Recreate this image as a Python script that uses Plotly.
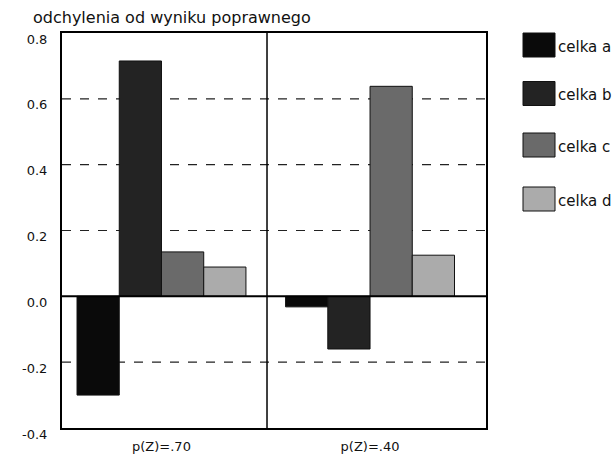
import plotly.graph_objects as go

categories = ["p(Z)=.70", "p(Z)=.40"]
series_names = ["celka a", "celka b", "celka c", "celka d"]
values_a = [-0.30, -0.032]
values_b = [0.715, -0.16]
values_c = [0.135, 0.638]
values_d = [0.089, 0.125]
series_values = [values_a, values_b, values_c, values_d]
colors = ["#0a0a0a", "#232323", "#6a6a6a", "#ababab"]
y_ticks = [-0.4, -0.2, 0.0, 0.2, 0.4, 0.6, 0.8]
y_tick_labels = ["-0.4", "-0.2", "0.0", "0.2", "0.4", "0.6", "0.8"]
title_text = "odchylenia od wyniku poprawnego"

FONT = "DejaVu Sans"

L, R, T, B = 62, 486, 33, 428
PW, PH = R - L, B - T

def px(x):
    return (x - L) / PW

def py(y):
    return (B - y) / PH

fig = go.Figure()
for name, vals, col in zip(series_names, series_values, colors):
    fig.add_trace(go.Bar(
        x=categories, y=vals, name=name,
        marker=dict(color=col, line=dict(color="#111", width=1)),
        showlegend=False,
    ))

shapes = []
for t in y_ticks:
    if t in (-0.4, 0.8, 0.0):
        continue
    shapes.append(dict(type="line", xref="paper", yref="y", x0=0, x1=1, y0=t, y1=t,
                       line=dict(color="#222", width=1.2, dash="dash"), layer="below"))
shapes.append(dict(type="line", xref="paper", yref="y", x0=0, x1=1, y0=0, y1=0,
                   line=dict(color="#000", width=2)))
shapes.append(dict(type="line", xref="x", yref="paper", x0=0.506, x1=0.506, y0=0, y1=1,
                   line=dict(color="#000", width=1.5)))

annotations = []
leg_y = [45, 93.5, 145, 199]
for i, (name, col) in enumerate(zip(series_names, colors)):
    yc = leg_y[i]
    shapes.append(dict(type="rect", xref="paper", yref="paper",
                       x0=px(523), x1=px(555),
                       y0=py(yc + 12), y1=py(yc - 12),
                       fillcolor=col, line=dict(color="#111", width=1)))
    annotations.append(dict(xref="paper", yref="paper",
                            x=px(556), y=py(yc + 2),
                            text=name, showarrow=False, xanchor="left", yanchor="middle",
                            font=dict(family=FONT, size=15, color="#111")))

annotations.append(dict(xref="paper", yref="paper", x=px(31), y=py(17),
                        text=title_text, showarrow=False, xanchor="left", yanchor="middle",
                        font=dict(family=FONT, size=16, color="#111")))

fig.update_layout(
    width=616, height=455,
    margin=dict(l=L, r=616 - R, t=T, b=455 - B),
    paper_bgcolor="white", plot_bgcolor="white",
    barmode="group", bargap=0.19, bargroupgap=0,
    shapes=shapes, annotations=annotations,
    font=dict(family=FONT, size=13, color="#111"),
    xaxis=dict(range=[-0.477, 1.556], showgrid=False, zeroline=False,
               showline=True, linecolor="#000", linewidth=1.5, mirror=True,
               automargin=False, ticks="", ticklabelstandoff=6,
               tickfont=dict(family=FONT, size=13, color="#111")),
    yaxis=dict(range=[-0.4, 0.8], tickvals=y_ticks, ticktext=y_tick_labels,
               showgrid=False, zeroline=False, automargin=False,
               showline=True, linecolor="#000", linewidth=2, mirror=True,
               ticks="", ticklabelstandoff=10, ticklabelshift=6,
               tickfont=dict(family=FONT, size=13, color="#111")),
)

fig.write_html("out.html", post_script="document.body.style.margin='0';",
               config={"displayModeBar": False})
